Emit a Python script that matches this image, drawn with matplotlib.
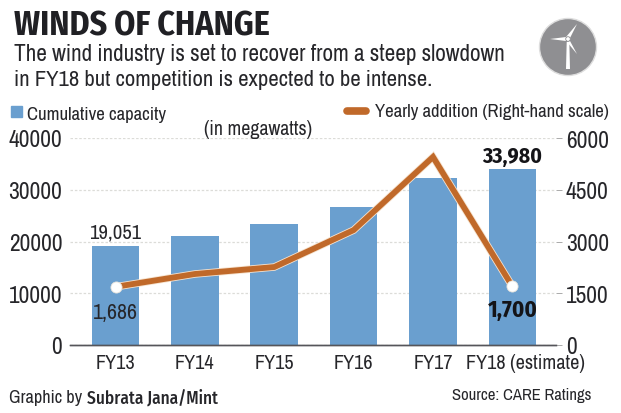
import matplotlib
matplotlib.use("Agg")
import matplotlib.pyplot as plt
from matplotlib.patches import Circle, Polygon, Rectangle
from matplotlib.transforms import ScaledTranslation
import matplotlib.patheffects as pe

categories = ["FY13", "FY14", "FY15", "FY16", "FY17", "FY18 (estimate)"]
capacity = [19051, 21120, 23400, 26700, 32200, 33980]
addition = [1686, 2058, 2260, 3330, 5450, 1700]
left_ticks = [0, 10000, 20000, 30000, 40000]
right_ticks = [0, 1500, 3000, 4500, 6000]

REG = ["Archivo Narrow", "Liberation Sans"]
BOLD = ["Fira Sans Condensed", "Liberation Sans"]
plt.rcParams["font.family"] = REG
W, H = 621, 414
INK = "#26262a"
DARK = "#141418"
BLUE = "#6a9fcf"
ORANGE = "#c0692a"

fig = plt.figure(figsize=(W / 100, H / 100), dpi=100, facecolor="white")
rend = fig.canvas.get_renderer()
def px(x, y):
    return x / W, 1 - y / H
def fit(t, width):
    t.set_fontsize(20)
    t.set_fontsize(20 * width / t.get_window_extent(rend).width)
    return t
def T(x, y, s, width, **kw):
    kw.setdefault("color", INK)
    kw.setdefault("va", "baseline")
    return fit(fig.text(*px(x, y), s, **kw), width)

L, R, TOP, BOT = 70, 556, 139, 346
ax = fig.add_axes([L / W, 1 - BOT / H, (R - L) / W, (BOT - TOP) / H])
ax2 = ax.twinx()
ax.set_xlim(-0.574, 5.55)
ax.set_ylim(0, 40000)
ax2.set_ylim(0, 6000)
ax.set_zorder(1)
ax2.set_zorder(2)
ax.patch.set_visible(False)
ax2.patch.set_visible(False)

xs = list(range(len(categories)))
ax.yaxis.grid(True, color="#dcdcd8", lw=0.9, ls=(0, (2, 1.5)), zorder=0)
ax.set_axisbelow(True)
ax.bar(xs, capacity, width=0.6, color=BLUE, zorder=2)
ax2.plot(xs, addition, color=ORANGE, lw=4.2, solid_joinstyle="miter", solid_capstyle="butt", zorder=3,
         path_effects=[pe.Stroke(linewidth=5.4, foreground="#f6e3cf"), pe.Normal()])
for i in (0, 5):
    ax2.plot([xs[i]], [addition[i]], "o", ms=8, mfc="white", mec="#e8e4dc", mew=0.6, zorder=4)

for a in (ax, ax2):
    for s in a.spines.values():
        s.set_visible(False)
    a.spines["bottom"].set_visible(True)
    a.spines["bottom"].set_color("#55555a")
    a.spines["bottom"].set_linewidth(1)
ax.set_xticks(xs, categories)
ax.tick_params(axis="x", length=0, pad=6, labelsize=14.6, labelcolor=INK)
last = ax.get_xticklabels()[-1]
last.set_transform(last.get_transform() + ScaledTranslation(13 / 100, 0, fig.dpi_scale_trans))
ax.set_yticks(left_ticks, [str(v) for v in left_ticks])
ax.tick_params(axis="y", length=0, pad=5.5, labelsize=16.9, labelcolor=INK)
ax2.set_yticks(right_ticks, [str(v) for v in right_ticks])
ax2.tick_params(axis="y", length=4.5, width=0.7, color="#aaaaaa", pad=2.5, labelsize=16.9, labelcolor=INK)

def label(a, x, v, dy, width, **kw):
    t = a.annotate(f"{v:,}", xy=(x, v), xytext=(0, dy), textcoords="offset pixels",
                   ha="center", va="baseline", zorder=5, **kw)
    fit(t, width)

label(ax, 0, capacity[0], 9, 52, color=INK)
label(ax, 5, capacity[5], 7, 60, color=DARK, family=BOLD, fontweight="bold")
label(ax2, 0, addition[0], -31, 45, color=INK)
label(ax2, 5, addition[5], -30, 50, color=DARK, family=BOLD, fontweight="bold")

T(14, 35, "WINDS OF CHANGE", 256, family=BOLD, fontweight="bold", color="#202024")
T(14, 61, "The wind industry is set to recover from a steep slowdown", 491)
T(14, 86, "in FY18 but competition is expected to be intense.", 418)
T(27, 120, "Cumulative capacity", 139)
T(375, 117, "Yearly addition (Right-hand scale)", 234)
T(204, 135, "(in megawatts)", 108)
T(9, 403, "Graphic by", 73)
T(87, 403, "Subrata Jana/Mint", 132, family=BOLD, fontweight="medium")
T(452, 400, "Source: CARE Ratings", 140)

fig.add_artist(Rectangle(px(11, 118), 11 / W, 11 / H, transform=fig.transFigure, color=BLUE))
fig.add_artist(plt.Line2D([px(347, 0)[0], px(366, 0)[0]], [px(0, 112)[1]] * 2, transform=fig.transFigure,
                          color=ORANGE, lw=5.5, solid_capstyle="round"))

icon = fig.add_axes([0, 0, 1, 1], zorder=6)
icon.set_xlim(0, W)
icon.set_ylim(H, 0)
icon.axis("off")
cx, cy = 568, 48
hy = cy - 8
icon.add_patch(Circle((cx, cy), 28.5, fc="#8f8f92", ec="#dddddd", lw=1))
icon.add_patch(Polygon([(cx - 1.3, hy + 3), (cx + 1.3, hy + 3), (cx + 2, cy + 22), (cx - 2, cy + 22)], fc="white"))
icon.add_patch(Polygon([(cx - 2, hy - 2), (cx + 2, hy - 1), (cx + 9, hy - 15)], fc="white"))
icon.add_patch(Polygon([(cx - 2, hy - 2), (cx - 2, hy + 2), (cx - 18, hy)], fc="white"))
icon.add_patch(Polygon([(cx - 1, hy + 3), (cx + 2, hy + 2), (cx + 9, hy + 15)], fc="white"))
icon.add_patch(Circle((cx, hy), 2.3, fc="white", ec="#8f8f92", lw=0.6))

fig.savefig("out.png", dpi=100)
